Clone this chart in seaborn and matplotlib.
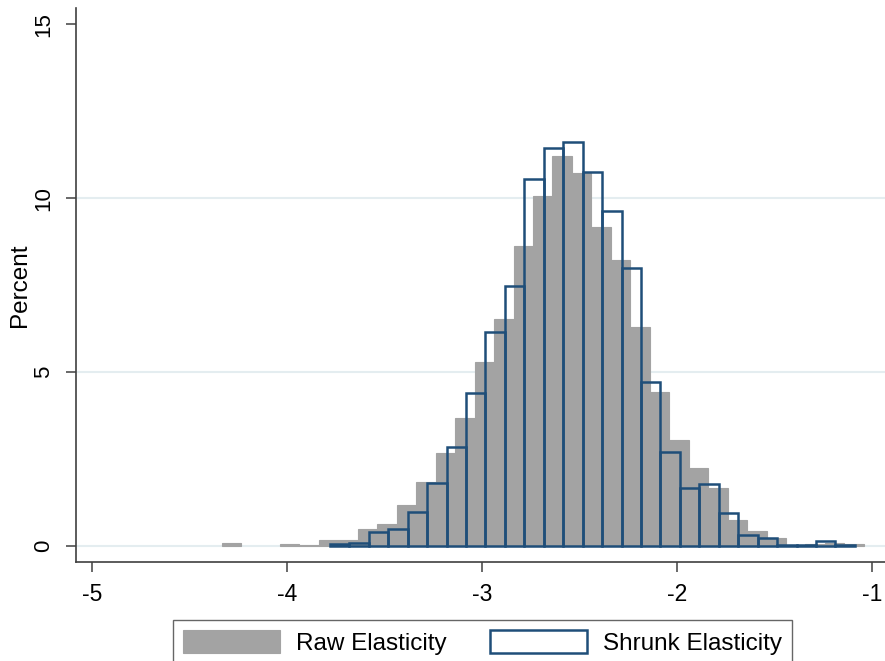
import numpy as np
import pandas as pd
import matplotlib
matplotlib.use("Agg")
import matplotlib.pyplot as plt
import seaborn as sns
from matplotlib.patches import Patch

# ---- data (percent per bin) ----
raw_start = -4.335
raw_width = 0.0998
raw_pct = [0.10, 0.0, 0.0, 0.06, 0.03, 0.17, 0.17, 0.48, 0.62, 1.17,
           1.85, 2.68, 3.67, 5.30, 6.54, 8.62, 10.07, 11.20, 10.72, 9.17,
           8.23, 6.29, 4.42, 3.05, 2.24, 1.68, 0.75, 0.44, 0.23, 0.03,
           0.05, 0.08, 0.05]

shrunk_start = -3.7795
shrunk_width = 0.0997
shrunk_pct = [0.06, 0.08, 0.39, 0.50, 0.99, 1.80, 2.86, 4.39, 6.15, 7.49,
              10.55, 11.43, 11.62, 10.74, 9.63, 8.00, 4.71, 2.71, 1.66, 1.77,
              0.95, 0.31, 0.23, 0.02, 0.03, 0.13, 0.04]

x_ticks = [-5, -4, -3, -2, -1]
y_ticks = [0, 5, 10, 15]
series_labels = ["Raw Elasticity", "Shrunk Elasticity"]
y_label = "Percent"

raw_edges = raw_start + raw_width * np.arange(len(raw_pct) + 1)
raw_df = pd.DataFrame({"x": (raw_edges[:-1] + raw_edges[1:]) / 2, "w": raw_pct})
shr_edges = shrunk_start + shrunk_width * np.arange(len(shrunk_pct) + 1)
shr_df = pd.DataFrame({"x": (shr_edges[:-1] + shr_edges[1:]) / 2, "w": shrunk_pct})

GRAY = "#a3a3a3"
NAVY = "#1f4e79"
GRID = "#e4edf0"
SPINE = "#404040"

sns.set_style("white")
plt.rcParams["font.family"] = ["Liberation Sans", "DejaVu Sans"]
plt.rcParams["axes.unicode_minus"] = False
plt.rcParams["text.color"] = "black"
plt.rcParams["axes.labelcolor"] = "black"
plt.rcParams["xtick.labelcolor"] = "black"
plt.rcParams["ytick.labelcolor"] = "black"

fig = plt.figure(figsize=(8.85, 6.61), dpi=100)
ax = fig.add_axes([76 / 885, 99 / 661, 809 / 885, 554 / 661])

sns.histplot(data=raw_df, x="x", weights="w", bins=list(raw_edges), stat="count",
             color=GRAY, alpha=1, edgecolor=GRAY, linewidth=0.8, ax=ax, zorder=2)
for p in ax.patches:
    if p.get_height() == 0:
        p.set_linewidth(0)
sns.histplot(data=shr_df, x="x", weights="w", bins=list(shr_edges), stat="count",
             fill=False, color=NAVY, linewidth=1.8, ax=ax, zorder=3)

ax.set_xlim(-5.082, -0.933)
ax.set_ylim(-0.46, 15.47)
ax.set_xticks(x_ticks)
ax.set_xticklabels([str(v) for v in x_ticks], fontsize=16.5, color="black")
ax.set_yticks(y_ticks)
ax.set_yticklabels([str(v) for v in y_ticks], fontsize=16, rotation=90,
                   va="center", color="black")

for v in y_ticks[:-1]:
    ax.axhline(v, color=GRID, lw=1.5, zorder=0.5)

ax.set_xlabel("")
ax.set_ylabel(y_label, fontsize=17.5, labelpad=2, color="black")

for s in ["top", "right"]:
    ax.spines[s].set_visible(False)
for s in ["left", "bottom"]:
    ax.spines[s].set_color(SPINE)
    ax.spines[s].set_linewidth(1.2)

ax.tick_params(axis="both", direction="out", length=7, width=1.1, color=SPINE,
               left=True, bottom=True)
ax.tick_params(axis="x", pad=8)
ax.tick_params(axis="y", pad=8.5)

handles = [Patch(facecolor=GRAY, edgecolor=GRAY, linewidth=0.8),
           Patch(facecolor="white", edgecolor=NAVY, linewidth=1.8)]
leg = fig.legend(handles, series_labels, loc="upper center",
                 bbox_to_anchor=(0.545, 0.080), ncol=2, fontsize=17.5,
                 frameon=True, fancybox=False, edgecolor=SPINE,
                 handlelength=4.0, handleheight=1.05, handletextpad=0.65,
                 columnspacing=1.8, borderpad=0.4)
leg.get_frame().set_linewidth(1.0)
for t in leg.get_texts():
    t.set_color("black")

fig.savefig("out.png", dpi=100, facecolor="white")
